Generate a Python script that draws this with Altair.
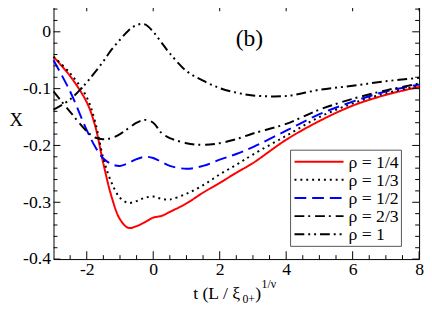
import altair as alt
import pandas as pd

# ---- data ----
t_vals = [-3, -2.5, -2, -1.75, -1.5, -1.25, -1, -0.75, -0.5, -0.25, 0, 0.25, 0.5,
          1, 1.5, 2, 2.5, 3, 4, 5, 6, 7, 8]
x_rho_1_4 = [-0.044, -0.078, -0.124, -0.165, -0.232, -0.291, -0.330, -0.345, -0.342, -0.335,
             -0.327, -0.324, -0.317, -0.302, -0.283, -0.266, -0.248, -0.231, -0.190, -0.157,
             -0.130, -0.111, -0.097]
x_rho_1_3 = [-0.044, -0.073, -0.115, -0.158, -0.223, -0.266, -0.292, -0.301, -0.298, -0.292,
             -0.290, -0.294, -0.295, -0.285, -0.270, -0.251, -0.234, -0.216, -0.183, -0.150,
             -0.126, -0.108, -0.095]
x_rho_1_2 = [-0.050, -0.105, -0.173, -0.202, -0.223, -0.233, -0.236, -0.231, -0.224, -0.220,
             -0.222, -0.229, -0.236, -0.241, -0.236, -0.225, -0.215, -0.203, -0.174, -0.145,
             -0.123, -0.105, -0.093]
x_rho_2_3 = [-0.105, -0.141, -0.175, -0.186, -0.189, -0.187, -0.180, -0.170, -0.160, -0.155,
             -0.160, -0.178, -0.187, -0.196, -0.199, -0.196, -0.189, -0.179, -0.162, -0.137,
             -0.118, -0.103, -0.091]
x_rho_1 = [-0.137, -0.119, -0.089, -0.071, -0.052, -0.031, -0.014, 0.002, 0.012, 0.013,
           0.000, -0.019, -0.038, -0.069, -0.086, -0.099, -0.107, -0.112, -0.113, -0.102,
           -0.095, -0.087, -0.081]

series_labels = ["ρ = 1/4", "ρ = 1/3", "ρ = 1/2", "ρ = 2/3", "ρ = 1"]
series_values = [x_rho_1_4, x_rho_1_3, x_rho_1_2, x_rho_2_3, x_rho_1]

x_major_ticks = [-2, 0, 2, 4, 6, 8]
x_minor_ticks = [-2.5, -1.5, -1, -0.5, 0.5, 1, 1.5, 2.5, 3, 3.5, 4.5, 5, 5.5, 6.5, 7, 7.5]
y_major_ticks = [-0.4, -0.3, -0.2, -0.1, 0]
y_minor_ticks = [-0.38, -0.36, -0.34, -0.32, -0.28, -0.26, -0.24, -0.22, -0.18, -0.16,
                 -0.14, -0.12, -0.08, -0.06, -0.04, -0.02, 0.02, 0.04]

x_title_parts = ["t (L / ξ", "0+", ")", "1/ν"]
panel_label = "(b)"
y_title = "X"

# ---- styles / layout ----
series_colors = ["#ff0000", "#000000", "#0000ff", "#000000", "#000000"]
series_dash = [[1, 0], [2, 4], [12, 6], [10, 4, 2, 5], [10, 4, 2, 4, 2, 4]]
SERIF = "Liberation Serif"
W, H = 372.6, 260.6
LEG_X0, LEG_X1, LEG_Y0, LEG_Y1 = 241.6, 354.6, 149.6, 247.6
LEG_ROW0, LEG_DY = 161.3, 18.5

rows = []
for lab, vals in zip(series_labels, series_values):
    for t, v in zip(t_vals, vals):
        rows.append({"t": t, "X": v, "rho": lab})
df = pd.DataFrame(rows)

xs = alt.Scale(domain=[-3, 8], nice=False, zero=False)
ys = alt.Scale(domain=[-0.4, 0.05], nice=False, zero=False)
cs = alt.Scale(domain=series_labels, range=series_colors)
ds = alt.Scale(domain=series_labels, range=series_dash)

x_axis = alt.Axis(
    values=x_major_ticks, labelExpr="toString(datum.value)", ticks=False,
    domain=False, grid=False, labelFont=SERIF, labelFontSize=18,
    labelColor="black", labelPadding=2, labelFlush=False, labelOverlap=False,
    title=None, orient="bottom")
y_axis = alt.Axis(
    values=y_major_ticks, labelExpr="toString(datum.value)", ticks=False,
    domain=False, grid=False, labelFont=SERIF, labelFontSize=18,
    labelColor="black", labelPadding=3, labelFlush=False, labelOverlap=False,
    title=y_title, titleAngle=0, titleX=-38.4, titleY=118.1, titleAlign="center",
    titleBaseline="middle", titleFont=SERIF, titleFontSize=19,
    titleFontWeight="normal", titleColor="black", orient="left")

lines = alt.Chart(df).mark_line(strokeWidth=2, interpolate="catmull-rom").encode(
    x=alt.X("t:Q", scale=xs, axis=x_axis),
    y=alt.Y("X:Q", scale=ys, axis=y_axis),
    color=alt.Color("rho:N", scale=cs, legend=None),
    strokeDash=alt.StrokeDash("rho:N", scale=ds, legend=None),
)


def xticks(vals, y1, y2):
    return alt.Chart(pd.DataFrame({"t": vals})).mark_rule(color="black", strokeWidth=1).encode(
        x=alt.X("t:Q", scale=xs, axis=x_axis), y=alt.value(y1), y2=alt.value(y2))


def yticks(vals, x1, x2):
    return alt.Chart(pd.DataFrame({"X": vals})).mark_rule(color="black", strokeWidth=1).encode(
        y=alt.Y("X:Q", scale=ys, axis=y_axis), x=alt.value(x1), x2=alt.value(x2))


ticks = [
    xticks(x_major_ticks, H, H - 8), xticks(x_minor_ticks, H, H - 4),
    xticks(x_major_ticks, 0, 8), xticks(x_minor_ticks, 0, 4),
    yticks(y_major_ticks, 0, 7), yticks(y_minor_ticks, 0, 4),
    yticks(y_major_ticks, W, W - 7), yticks(y_minor_ticks, W, W - 4),
]


def txt(s, x, y, size, align="left", baseline="alphabetic"):
    return alt.Chart(pd.DataFrame({"s": [s]})).mark_text(
        font=SERIF, fontSize=size, color="black", align=align, baseline=baseline
    ).encode(text="s:N", x=alt.value(x), y=alt.value(y))


texts = [
    txt(x_title_parts[0], 142.3, 301.6, 18),
    txt(x_title_parts[1], 192.6, 305.6, 12),
    txt(x_title_parts[2], 205.6, 301.6, 18),
    txt(x_title_parts[3], 212.1, 289.6, 12),
    txt(panel_label, 199.6, 36.1, 24, align="center", baseline="middle"),
]

# legend drawn with the same colour / dash scales as the curves
legend_box = alt.Chart(pd.DataFrame({"k": [0]})).mark_rect(
    fill="white", stroke="#555555", strokeWidth=1
).encode(x=alt.value(LEG_X0), x2=alt.value(LEG_X1), y=alt.value(LEG_Y0), y2=alt.value(LEG_Y1))

legend_layers = [legend_box]
for i, lab in enumerate(series_labels):
    yy = LEG_ROW0 + i * LEG_DY
    d = pd.DataFrame({"rho": [lab]})
    legend_layers.append(
        alt.Chart(d).mark_rule(strokeWidth=2).encode(
            x=alt.value(LEG_X0 + 4), x2=alt.value(LEG_X0 + 54), y=alt.value(yy),
            color=alt.Color("rho:N", scale=cs, legend=None),
            strokeDash=alt.StrokeDash("rho:N", scale=ds, legend=None)))
    legend_layers.append(
        alt.Chart(d).mark_text(font=SERIF, fontSize=18, color="black", align="left",
                               baseline="middle").encode(
            text="rho:N", x=alt.value(LEG_X0 + 59), y=alt.value(yy + 1)))

chart = alt.layer(lines, *ticks, *legend_layers, *texts).properties(
    width=W, height=H,
    autosize=alt.AutoSizeParams(type="none"),
    padding={"left": 46.4, "top": -7.6, "right": 5, "bottom": 50},
).configure_view(stroke="black", strokeWidth=1)

chart.save("out.html", embed_options={"renderer": "svg", "actions": False})
